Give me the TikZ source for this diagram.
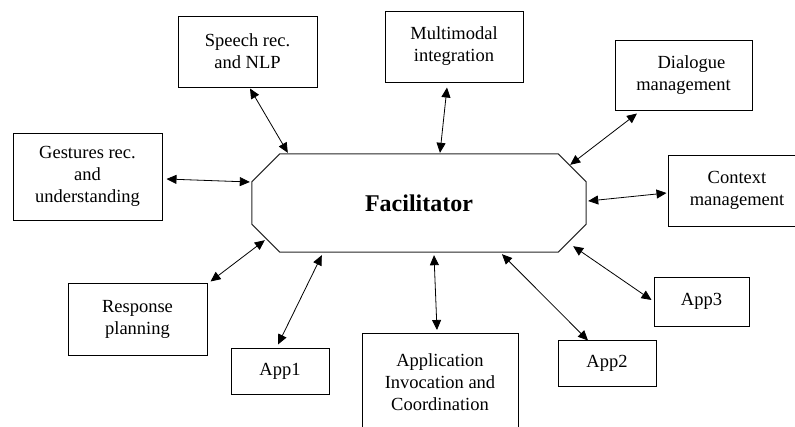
\documentclass[tikz,border=0pt]{standalone}
\usepackage{fontspec}
\setmainfont{Liberation Serif}
\usetikzlibrary{arrows.meta,calc}

\tikzset{
  modbox/.style={draw=black, line width=1pt, align=center, inner sep=0pt,
    font=\fontsize{18.5}{22}\selectfont},
  link/.style={line width=0.8pt, {Triangle[length=10pt,width=9pt]}-{Triangle[length=10pt,width=9pt]}},
  hub/.style={draw=none, inner sep=0pt, minimum width=334pt, minimum height=98pt,
    font=\fontsize{24}{28}\selectfont\bfseries},
  hubline/.style={line width=1pt, draw=black!85}
}

\begin{document}
\begin{tikzpicture}[x=1pt,y=-1pt]
\useasboundingbox (0,0) rectangle (795,426);

% central facilitator (octagon drawn from the node's anchors)
\node[hub] (fac) at (419,203) {Facilitator};
\draw[hubline]
  ($(fac.north west)+(28,0)$) -- ($(fac.north east)+(-28,0)$) --
  ($(fac.north east)+(0,28)$) -- ($(fac.south east)+(0,-28)$) --
  ($(fac.south east)+(-28,0)$) -- ($(fac.south west)+(28,0)$) --
  ($(fac.south west)+(0,-28)$) -- ($(fac.north west)+(0,28)$) -- cycle;

% surrounding modules
\node[modbox, minimum width=139pt, minimum height=71pt] (speech) at (247.5,51.5) {Speech rec.\\and NLP};
\node[modbox, minimum width=138pt, minimum height=71pt] (mm) at (454,46.5) {Multimodal\\integration};
\node[modbox, minimum width=137pt, minimum height=70pt] (dlg) at (683.5,75) {\hspace*{16pt}Dialogue\\management};
\node[modbox, minimum width=149pt, minimum height=87pt] (gest) at (87.5,176.5) {Gestures rec.\\and\\understanding};
\node[modbox, minimum width=138pt, minimum height=71pt] (ctx) at (737,190.5) {Context\\management};
\node[modbox, minimum width=139pt, minimum height=72pt] (resp) at (137.5,319) {Response\\planning};
\node[modbox, minimum width=98pt, minimum height=46pt] (app1) at (280,371) {App1};
\node[modbox, minimum width=156pt, minimum height=97pt, anchor=north] (aic) at (440,333) {Application\\Invocation and\\Coordination};
\node[modbox, minimum width=98pt, minimum height=46pt] (app2) at (607,363) {App2};
\node[modbox, minimum width=95pt, minimum height=49pt] (app3) at (701.5,301.5) {App3};

% two-way links to the facilitator
\draw[link] ($(speech.south)+(2.5,1)$) -- ($(fac.north west)+(36,-1)$);
\draw[link] ($(gest.east)+(4,2.5)$) -- ($(fac.west)+(-2,-21)$);
\draw[link] ($(mm.south)+(-7,5)$) -- ($(fac.north)+(21,-1)$);
\draw[link] ($(dlg.south)+(-46.5,3)$) -- ($(fac.north east)+(-16,11)$);
\draw[link] ($(ctx.west)+(-1,2.5)$) -- ($(fac.east)+(2,-2)$);
\draw[link] ($(resp.north east)+(3,-1)$) -- ($(fac.south west)+(13,-12)$);
\draw[link] ($(app1.north)+(-2,-3)$) -- ($(fac.south west)+(70,3)$);
\draw[link] ($(aic.north)+(-3,-3)$) -- ($(fac.south)+(15,3)$);
\draw[link] ($(app2.north)+(-19,1)$) -- ($(fac.south)+(83,2)$);
\draw[link] ($(app3.west)+(-2,-1.5)$) -- ($(fac.south east)+(-13,-6)$);
\end{tikzpicture}
\end{document}
